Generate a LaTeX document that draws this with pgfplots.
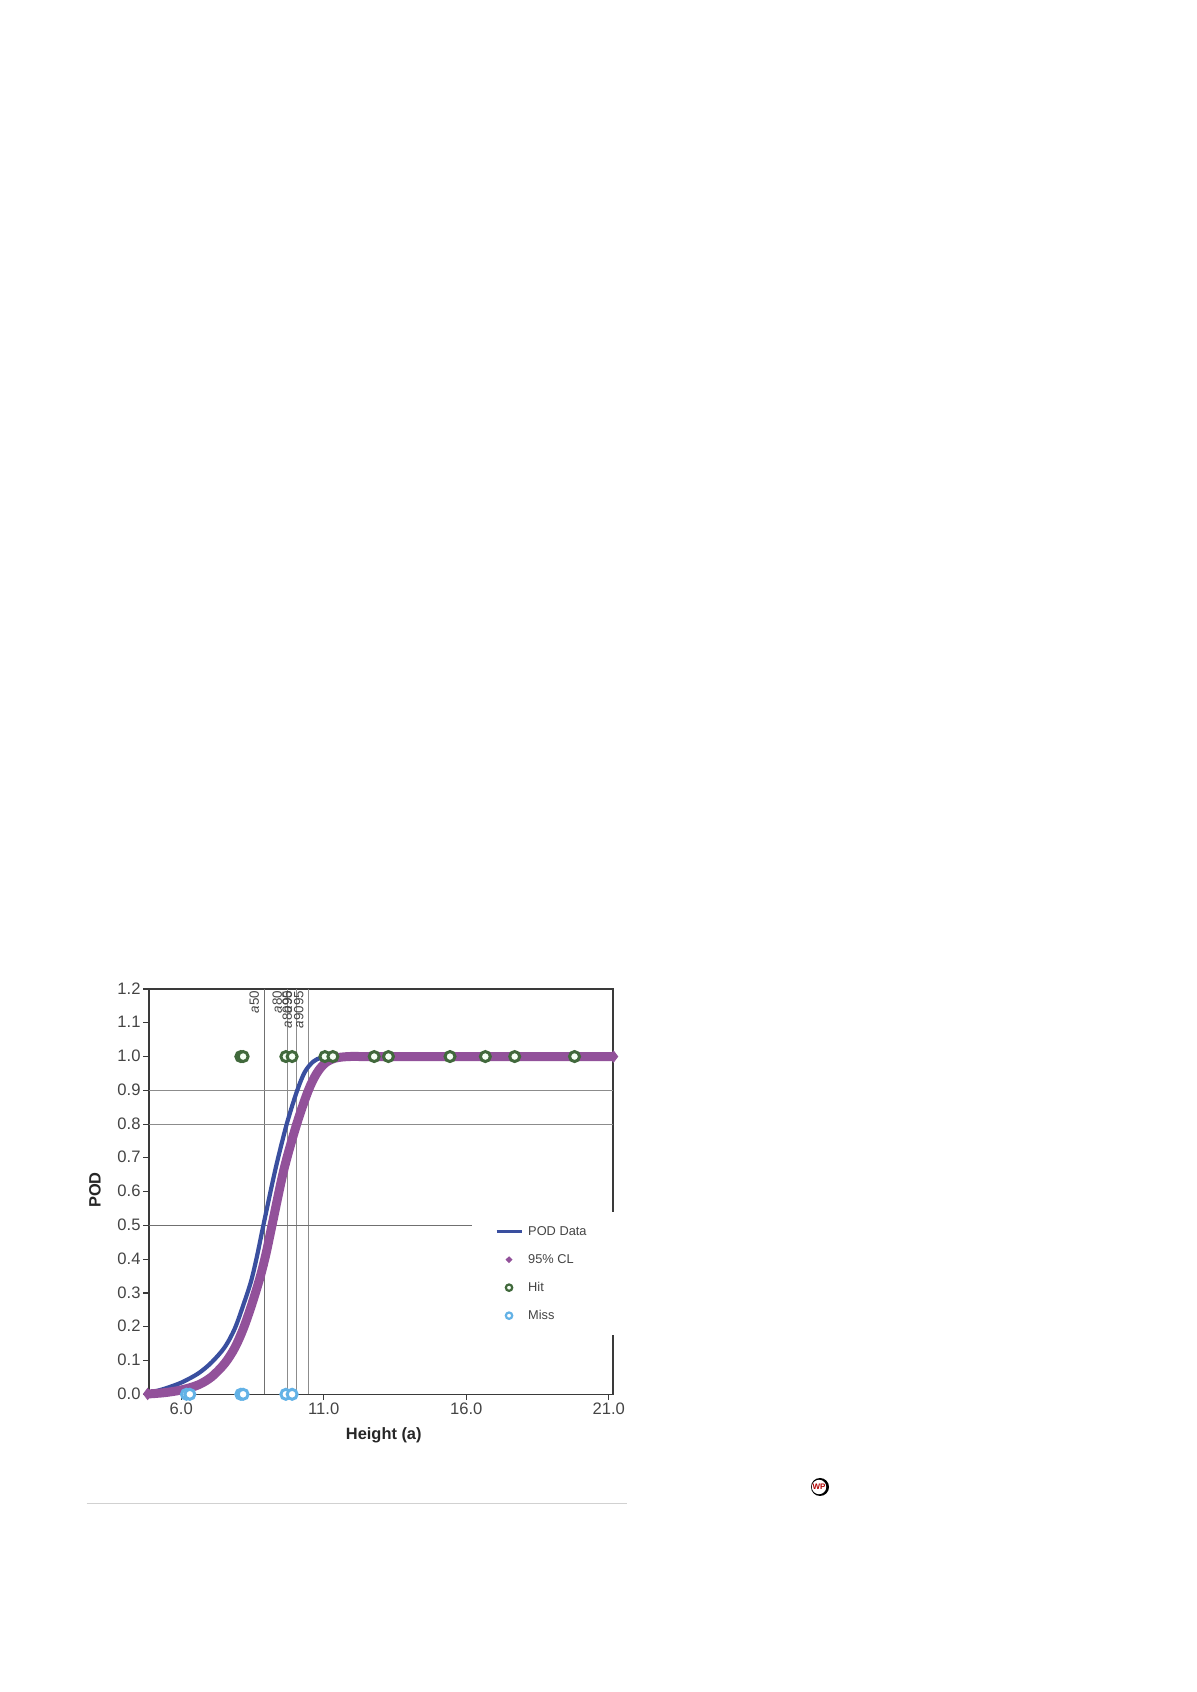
\documentclass[border=0pt]{standalone}
\usepackage{fontspec}
\setmainfont{Liberation Sans}
\usepackage{pgfplots}
\pgfplotsset{compat=1.18}
\usepackage{pgfplotstable}
\definecolor{podblue}{HTML}{3A4F9F}
\definecolor{clpurple}{HTML}{92519A}
\definecolor{hitgreen}{HTML}{41693C}
\definecolor{missblue}{HTML}{63B2E6}
\definecolor{gridgrey}{HTML}{8C8C8C}
\definecolor{spine}{HTML}{3A3A3A}
\definecolor{txt}{HTML}{444444}
\pgfplotstableread{
x y
4.84 0.003
5.43 0.017
6.01 0.035
6.60 0.062
7.07 0.095
7.53 0.140
7.88 0.195
8.18 0.265
8.45 0.335
8.66 0.410
8.88 0.500
9.30 0.665
9.70 0.800
10.07 0.900
10.34 0.955
10.63 0.985
10.93 0.997
11.40 1.000
12.50 1.000
21.15 1.000
}\podtable
\pgfplotstableread{
x y
4.84 0.001
5.43 0.005
6.01 0.013
6.60 0.028
7.07 0.052
7.53 0.092
7.88 0.138
8.18 0.195
8.47 0.265
8.76 0.345
8.97 0.415
9.17 0.495
9.60 0.665
10.05 0.800
10.46 0.900
10.75 0.950
11.04 0.980
11.39 0.995
11.90 1.000
13.00 1.000
21.15 1.000
}\cltable
\begin{document}
\begin{tikzpicture}[x=1pt,y=1pt]
\path[use as bounding box] (0,0) rectangle (598,846);
\draw[color=black!18,line width=0.5pt] (43.35,94) -- (313.5,94);
\fill[black] (410,102.5) circle (4.5);
\fill[white] (409.5,102.5) circle (3.6);
\node[inner sep=0pt,text=red!70!black,font=\bfseries\fontsize{4}{4}\selectfont] at (409.5,102.5) {WP};
\begin{axis}[
  at={(74.5pt,148.85pt)}, anchor=south west,
  scale only axis, width=232pt, height=202.65pt,
  xmin=4.867, xmax=21.15, ymin=0, ymax=1.2,
  clip=false,
  axis line style={color=spine,line width=0.6pt},
  tick style={color=spine,line width=0.55pt},
  tick align=outside, tick pos=left,
  major tick length=2.75pt,
  xtick={6,11,16,21},
  ytick={0,0.1,0.2,0.3,0.4,0.5,0.6,0.7,0.8,0.9,1.0,1.1,1.2},
  /pgf/number format/assume math mode=true,
  /pgf/number format/fixed,
  /pgf/number format/fixed zerofill,
  /pgf/number format/precision=1,
  ticklabel style={font=\fontsize{8.3}{9}\selectfont,text=txt},
  xticklabel style={inner sep=1.6pt},
  yticklabel style={inner sep=1.3pt,yshift=0.3pt},
  xlabel={Height (a)},
  ylabel={POD},
  every axis x label/.style={at={(axis description cs:0.506,-0.1)},anchor=center,font=\bfseries\fontsize{8.2}{9}\selectfont,text=black!85},
  every axis y label/.style={at={(axis description cs:-0.1164,0.504)},anchor=center,rotate=90,font=\bfseries\fontsize{8.2}{9}\selectfont,text=black!85},
  legend style={
    at={(rel axis cs:0.696,0.4504)}, anchor=north west,
    fill=white, draw=none, inner xsep=9.85pt, inner ysep=6.5pt,
    font=\fontsize{6.4}{8}\selectfont, text=txt,
    row sep=7.5pt, column sep=0pt,
    nodes={inner sep=0pt,text height=5pt,text depth=1.5pt},
  },
  legend cell align=left,
]
% vertical and horizontal reference lines
\addplot[gridgrey!80!black,line width=0.5pt,forget plot] coordinates {(8.912,0) (8.912,1.2)};
\addplot[gridgrey,line width=0.55pt,forget plot] coordinates {(9.733,0) (9.733,1.2)};
\addplot[gridgrey,line width=0.55pt,forget plot] coordinates {(10.05,0) (10.05,1.2)};
\addplot[gridgrey,line width=0.55pt,forget plot] coordinates {(10.05,0) (10.05,1.2)};
\addplot[gridgrey,line width=0.55pt,forget plot] coordinates {(10.47,0) (10.47,1.2)};
\addplot[gridgrey,line width=0.55pt,forget plot] coordinates {(4.867,0.9) (21.15,0.9)};
\addplot[gridgrey,line width=0.55pt,forget plot] coordinates {(4.867,0.8) (21.15,0.8)};
\addplot[gridgrey!80!black,line width=0.5pt,forget plot] coordinates {(4.867,0.5) (21.15,0.5)};
% reference-line labels
\begin{scope}[every node/.style={rotate=90,anchor=east,inner sep=0pt,font=\fontsize{6.7}{7}\selectfont,text=txt}]
\node at (axis cs:8.56,1.195) {\textit{a}50};
\node at (axis cs:9.37,1.195) {\textit{a}80};
\node at (axis cs:9.72,1.195) {\textit{a}90};
\node at (axis cs:9.72,1.195) {\textit{a}8095};
\node at (axis cs:10.12,1.195) {\textit{a}9095};
\end{scope}
% series
\addplot[podblue,line width=2.1pt,smooth,tension=0.5,
  legend image code/.code={\path (0pt,0pt) (13.6pt,0pt);\draw[podblue,line width=1.3pt] (0pt,0pt) -- (12.5pt,0pt);}]
  table[x=x,y=y] {\podtable};
\addlegendentry{\makebox[39pt][l]{POD Data}}
\addplot[clpurple,line width=4.5pt,line join=round,smooth,tension=0.5,
  legend image code/.code={\path (0pt,0pt) (13.6pt,0pt);\path[fill=clpurple,draw=none] (6.25pt,1.7pt) -- (8pt,0pt) -- (6.25pt,-1.7pt) -- (4.5pt,0pt) -- cycle;}]
  table[x=x,y=y] {\cltable};
\addlegendentry{95\% CL}
\addplot[only marks,mark=diamond*,mark size=2.8pt,color=clpurple,forget plot] coordinates {(4.82,0.001) (21.17,1.0)};
\addplot[only marks,mark=*,mark size=2.5pt,
  mark options={draw=hitgreen,fill=green!4,line width=1.5pt},
  legend image code/.code={\path (0pt,0pt) (13.6pt,0pt);\draw[hitgreen,fill=green!4,line width=1.1pt] (6.25pt,0pt) circle (1.6pt);}]
  coordinates {(8.09,1) (8.17,1) (9.67,1) (9.89,1) (11.04,1) (11.32,1) (12.77,1) (13.27,1) (15.43,1) (16.67,1) (17.70,1) (19.80,1)};
\addlegendentry{Hit}
\addplot[only marks,mark=*,mark size=2.5pt,
  mark options={draw=missblue,fill=white,line width=1.5pt},
  legend image code/.code={\path (0pt,0pt) (13.6pt,0pt);\draw[missblue,fill=white,line width=1.1pt] (6.25pt,0pt) circle (1.6pt);}]
  coordinates {(6.18,0) (6.30,0) (8.09,0) (8.17,0) (9.67,0) (9.89,0)};
\addlegendentry{Miss}
\end{axis}
\end{tikzpicture}
\end{document}
